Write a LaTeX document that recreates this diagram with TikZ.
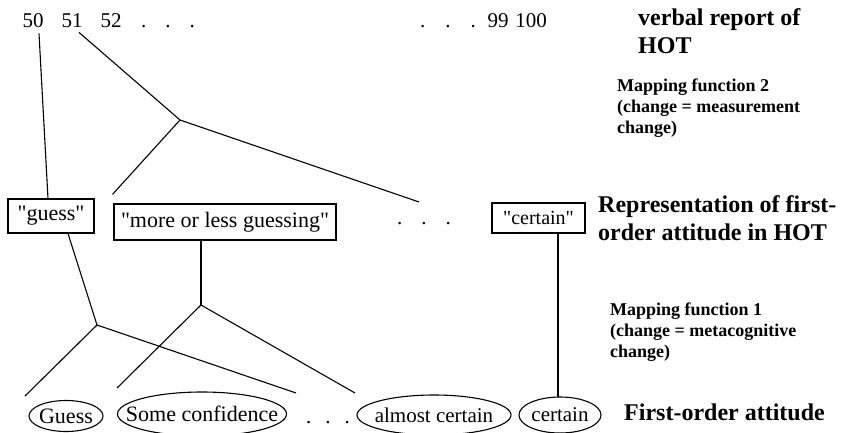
\documentclass[tikz,border=0pt]{standalone}
\usepackage{fontspec}
\setmainfont{Liberation Serif}[Ligatures=TeXOff]
\usetikzlibrary{shapes.geometric}

\newcommand{\dq}{\symbol{34}}
\tikzset{
  txt/.style={inner sep=0pt, font=\fontsize{21}{25}\selectfont},
  lbox/.style={draw, line width=1.1pt, inner sep=0pt, font=\fontsize{22}{26}\selectfont},
  att/.style={inner sep=0pt, font=\fontsize{22}{26}\selectfont},
  head/.style={anchor=north west, align=left, inner sep=0pt, font=\fontsize{24}{28}\selectfont\bfseries},
  mapl/.style={anchor=north west, align=left, inner sep=0pt, font=\fontsize{18}{21}\selectfont\bfseries},
  link/.style={line width=1.1pt}
}

\begin{document}
\begin{tikzpicture}[x=1pt,y=-1pt]
    \useasboundingbox (0,0) rectangle (845,433);
    % verbal report scale
    \node[txt, anchor=base] (n50) at (33,28) {50};
    \node[txt, anchor=base] (n51) at (72,28) {51};
    \node[txt, anchor=base] (n52) at (111,28) {52};
    \node[txt, anchor=base] (ldots) at (168,28) {.\hspace{19pt}.\hspace{19pt}.};
    \node[txt, anchor=base] (rdots) at (448,28) {.\hspace{20pt}.\hspace{20pt}.};
    \node[txt, anchor=base] (n99) at (498,28) {99};
    \node[txt, anchor=base] (n100) at (531,28) {100};
    \node[head] (hverbal) at (638,8.5) {verbal report of\\HOT};
    \node[mapl] (map2) at (617,78.7) {Mapping function 2\\(change = measurement\\change)};
    % representation in HOT
    \node[lbox, minimum width=86pt, minimum height=34pt] (guess) at (51,216) {\dq guess\dq};
    \node[lbox, minimum width=222pt, minimum height=36pt] (more) at (225,222) {\dq more or less guessing\dq};
    \node[txt, anchor=base] (mdots) at (424,224) {.\hspace{19pt}.\hspace{19pt}.};
    \node[lbox, minimum width=93pt, minimum height=30pt, font=\fontsize{20}{24}\selectfont] (certbox) at (538.5,218) {\dq certain\dq};
    \node[head] (hrep) at (598,195.6) {Representation of first-\\order attitude in HOT};
    \node[mapl] (map1) at (610,302.7) {Mapping function 1\\(change = metacognitive\\change)};
    % first-order attitudes
    \node[att] (aguess) at (66,416) {Guess};
    \node[att] (asome) at (202,414) {Some confidence};
    \node[txt, anchor=base] (bdots) at (328,423) {.\hspace{14pt}.\hspace{14pt}.};
    \node[att, font=\fontsize{21}{25}\selectfont] (aalmost) at (434,415) {almost certain};
    \node[att, font=\fontsize{21}{25}\selectfont] (acert) at (560,415) {certain};
    \node[head, anchor=base west] (hfirst) at (624,420) {First-order attitude};
    \draw[link] (aguess) ellipse [x radius=37pt, y radius=15.5pt];
    \draw[link] (asome) ellipse [x radius=84.5pt, y radius=22pt];
    \draw[link] (aalmost) ellipse [x radius=77pt, y radius=20pt];
    \draw[link] (acert) ellipse [x radius=41pt, y radius=18pt];
    % junctions and free ends
    \coordinate (j2) at (180,120);
    \coordinate (e2) at (419,202);
    \coordinate (j1) at (97,325);
    \coordinate (j3) at (201,305);
    \coordinate (e1a) at (25,396);
    \coordinate (e1b) at (296,393);
    \coordinate (e3a) at (117,388);
    \coordinate (e3b) at (355,393);
    % mapping function 2
    \draw[link] ([xshift=6pt,yshift=-5pt]n50.south) -- ([xshift=-3pt]guess.north);
    \draw[link] ([xshift=7pt,yshift=-4pt]n51.south) -- (j2);
    \draw[link] (j2) -- ([xshift=-1pt,yshift=9pt]more.north west);
    \draw[link] (j2) -- (e2);
    % mapping function 1
    \draw[link] ([xshift=17pt]guess.south) -- (j1);
    \draw[link] (j1) -- (e1a);
    \draw[link] (j1) -- (e1b);
    \draw[link] ([xshift=-24pt]more.south) -- (j3);
    \draw[link] (j3) -- (e3a);
    \draw[link] (j3) -- (e3b);
    \draw[link] ([xshift=19.5pt]certbox.south) -- ([xshift=-2pt,yshift=18pt]acert.center);
\end{tikzpicture}
\end{document}
